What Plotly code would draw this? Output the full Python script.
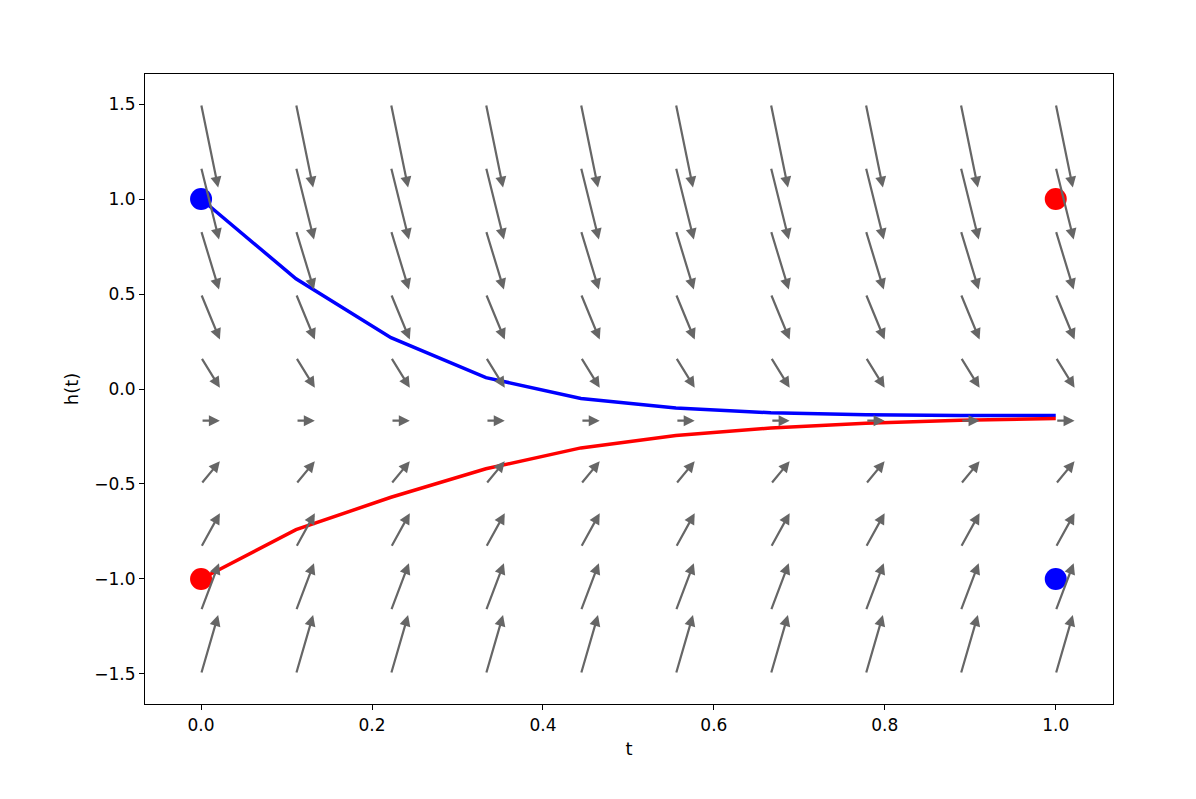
import plotly.graph_objects as go

t_grid = [0, 1/9, 2/9, 3/9, 4/9, 5/9, 6/9, 7/9, 8/9, 1.0]
h_grid = [-1.5, -7/6, -5/6, -0.5, -1/6, 1/6, 0.5, 5/6, 7/6, 1.5]
dt_arrow = [0.02, 0.021, 0.022, 0.022, 0.022, 0.022, 0.022, 0.021, 0.021, 0.02]
dh_arrow = [0.31, 0.25, 0.18, 0.12, 0.0, -0.16, -0.24, -0.31, -0.38, -0.44]

blue_h = [1.0, 0.58, 0.27, 0.06, -0.05, -0.10, -0.125, -0.135, -0.14, -0.14]
red_h = [-1.0, -0.74, -0.57, -0.42, -0.31, -0.245, -0.205, -0.18, -0.165, -0.155]

blue_pts_t, blue_pts_h = [0, 1], [1, -1]
red_pts_t, red_pts_h = [0, 1], [-1, 1]

fig = go.Figure()
fig.add_trace(go.Scatter(x=t_grid, y=blue_h, mode="lines", line=dict(color="blue", width=3.5)))
fig.add_trace(go.Scatter(x=t_grid, y=red_h, mode="lines", line=dict(color="red", width=3.5)))
fig.add_trace(go.Scatter(x=blue_pts_t, y=blue_pts_h, mode="markers", marker=dict(color="blue", size=22)))
fig.add_trace(go.Scatter(x=red_pts_t, y=red_pts_h, mode="markers", marker=dict(color="red", size=22)))

for t in t_grid:
    for h, dt, dh in zip(h_grid, dt_arrow, dh_arrow):
        fig.add_annotation(x=t + dt, y=h + dh, ax=t, ay=h, xref="x", yref="y",
                           axref="x", ayref="y", text="", showarrow=True,
                           arrowhead=2, arrowsize=1.0, arrowwidth=2.2, arrowcolor="#666666")

axis_style = dict(showgrid=False, zeroline=False, showline=True, linecolor="black",
                  linewidth=1.2, mirror=True, ticks="outside", ticklen=5,
                  tickcolor="black", tickfont=dict(size=17, color="black"))
fig.update_xaxes(range=[-0.0656, 1.067], tickvals=[0, 0.2, 0.4, 0.6, 0.8, 1.0],
                 tickformat=".1f", title=dict(text="t", font=dict(size=18), standoff=8), **axis_style)
fig.update_yaxes(range=[-1.658, 1.658], tickvals=[-1.5, -1.0, -0.5, 0, 0.5, 1.0, 1.5],
                 tickformat=".1f", title=dict(text="h(t)", font=dict(size=18), standoff=10), **axis_style)
fig.update_layout(width=1196, height=799, plot_bgcolor="white", paper_bgcolor="white",
                  showlegend=False, margin=dict(l=137, r=91, t=66, b=103),
                  font=dict(family="DejaVu Sans", color="black"))
fig.write_html("out.html")
